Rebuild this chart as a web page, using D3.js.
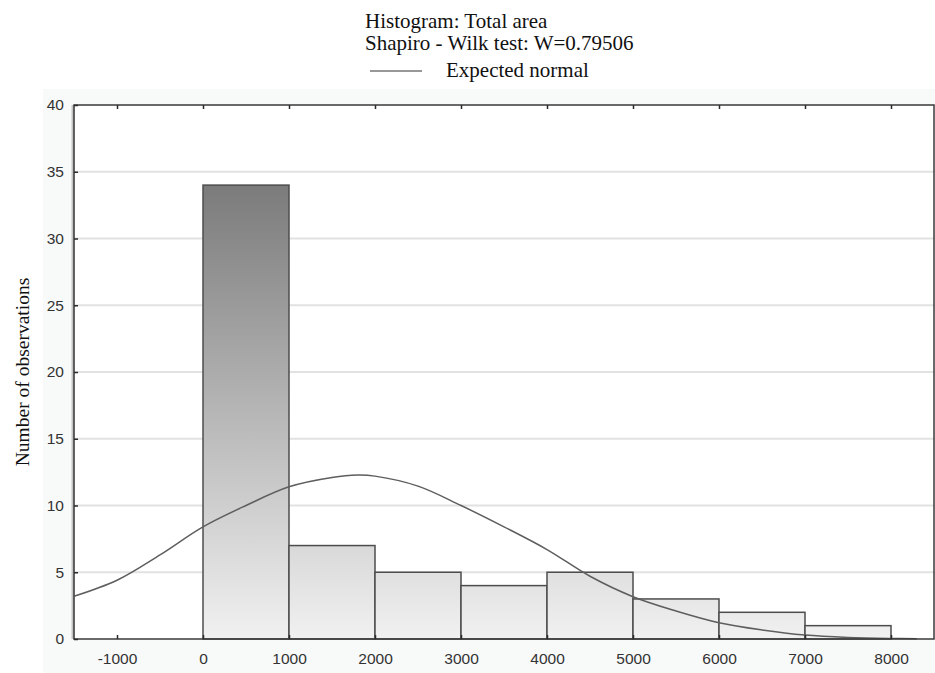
<!DOCTYPE html>
<html>
<head>
<meta charset="utf-8">
<script src="https://cdn.jsdelivr.net/npm/d3@7/dist/d3.min.js"></script>
<style>
  html, body { margin: 0; padding: 0; background: #ffffff; }
  svg { display: block; }
</style>
</head>
<body>
<script>
// Histogram bins (lower edge, upper edge) and counts
const binStarts = [0, 1000, 2000, 3000, 4000, 5000, 6000, 7000];
const binEnds   = [1000, 2000, 3000, 4000, 5000, 6000, 7000, 8000];
const counts    = [34, 7, 5, 4, 5, 3, 2, 1];

// Expected normal curve, sampled along the x axis
const curveX = [-1500, -1000, -500, 0, 500, 1000, 1500, 1800, 2000, 2500, 3000, 3500,
                4000, 4500, 5000, 5500, 6000, 6500, 7000, 7500, 8000, 8300];
const curveY = [3.2, 4.4, 6.3, 8.4, 10.0, 11.4, 12.1, 12.28, 12.2, 11.45, 10.0, 8.4,
                6.7, 4.7, 3.17, 2.1, 1.22, 0.68, 0.3, 0.12, 0.04, 0.02];

// Axis ticks
const xTicks = [-1000, 0, 1000, 2000, 3000, 4000, 5000, 6000, 7000, 8000];
const yTicks = [0, 5, 10, 15, 20, 25, 30, 35, 40];

const titleLines = ["Histogram: Total area", "Shapiro - Wilk test: W=0.79506"];
const legendLabel = "Expected normal";
const yLabel = "Number of observations";

const W = 935, H = 673;
const plot = { left: 74, right: 934, top: 105, bottom: 639 };

const svg = d3.select("body").append("svg").attr("width", W).attr("height", H);

const x = d3.scaleLinear().domain([-1500, 8500]).range([plot.left, plot.right]);
const y = d3.scaleLinear().domain([0, 40]).range([plot.bottom, plot.top]);

// Panel background and plot area
svg.append("rect").attr("x", 43).attr("y", 89).attr("width", W - 43).attr("height", H - 89)
  .attr("fill", "#f8f9f9");
svg.append("rect").attr("x", plot.left).attr("y", plot.top)
  .attr("width", plot.right - plot.left).attr("height", plot.bottom - plot.top)
  .attr("fill", "#ffffff");

// Gradient for the bars, shared over the value range
const defs = svg.append("defs");
const grad = defs.append("linearGradient").attr("id", "barGrad")
  .attr("gradientUnits", "userSpaceOnUse")
  .attr("x1", 0).attr("x2", 0).attr("y1", y(34)).attr("y2", y(0));
grad.append("stop").attr("offset", 0).attr("stop-color", "#7b7b7b");
grad.append("stop").attr("offset", 1).attr("stop-color", "#f1f1f1");

// Horizontal grid lines
svg.append("g").selectAll("line")
  .data(yTicks.filter(d => d > 0 && d < 40))
  .join("line")
  .attr("x1", plot.left).attr("x2", plot.right)
  .attr("y1", d => y(d)).attr("y2", d => y(d))
  .attr("stroke", "#e2e2e2").attr("stroke-width", 2);

// Bars
const bins = counts.map((c, i) => ({ x0: binStarts[i], x1: binEnds[i], n: c }));
svg.append("g").selectAll("rect")
  .data(bins)
  .join("rect")
  .attr("x", d => x(d.x0))
  .attr("y", d => y(d.n))
  .attr("width", d => x(d.x1) - x(d.x0))
  .attr("height", d => y(0) - y(d.n))
  .attr("fill", "url(#barGrad)")
  .attr("stroke", "#4d4d4d")
  .attr("stroke-width", 1.5);

// Expected normal curve
const curvePts = curveX.map((v, i) => [v, curveY[i]]);
svg.append("path")
  .datum(curvePts)
  .attr("d", d3.line().x(d => x(d[0])).y(d => y(d[1])).curve(d3.curveCatmullRom))
  .attr("fill", "none")
  .attr("stroke", "#5e5e5e")
  .attr("stroke-width", 1.5);

// Frame
svg.append("line").attr("x1", plot.left - 1).attr("x2", plot.left - 1)
  .attr("y1", plot.top).attr("y2", plot.bottom)
  .attr("stroke", "#c4c4c4").attr("stroke-width", 3);
svg.append("rect").attr("x", plot.left).attr("y", plot.top)
  .attr("width", plot.right - plot.left).attr("height", plot.bottom - plot.top)
  .attr("fill", "none").attr("stroke", "#3a3a3a").attr("stroke-width", 1.5);

// Axes
const fontAxis = "'Liberation Sans', Arial, sans-serif";
const xAxis = d3.axisBottom(x).tickValues(xTicks).tickSize(-4).tickPadding(14)
  .tickFormat(d => String(d));
const gx = svg.append("g").attr("transform", `translate(0,${plot.bottom})`).call(xAxis);
const yAxis = d3.axisLeft(y).tickValues(yTicks).tickSize(-4).tickPadding(10)
  .tickFormat(d => String(d));
const gy = svg.append("g").attr("transform", `translate(${plot.left},0)`).call(yAxis);
// Top ticks pointing inward
const gTop = svg.append("g").attr("transform", `translate(0,${plot.top})`)
  .call(d3.axisTop(x).tickValues(xTicks).tickSize(-4).tickFormat(""));

[gx, gy, gTop].forEach(g => {
  g.select(".domain").remove();
  g.selectAll(".tick line").attr("stroke", "#2a2a2a").attr("stroke-width", 1.5);
  g.selectAll(".tick text")
    .attr("font-family", fontAxis).attr("font-size", 15.5)
    .attr("fill", "#333333");
});

// Titles and legend
const fontSerif = "'Liberation Serif', 'Times New Roman', serif";
svg.append("g").selectAll("text")
  .data(titleLines)
  .join("text")
  .attr("x", 365).attr("y", (d, i) => 28 + i * 22)
  .attr("font-family", fontSerif).attr("font-size", 21)
  .attr("fill", "#111111")
  .text(d => d);

svg.append("line").attr("x1", 370).attr("x2", 422).attr("y1", 71).attr("y2", 71)
  .attr("stroke", "#333333").attr("stroke-width", 1.2);
svg.append("text").attr("x", 446).attr("y", 77)
  .attr("font-family", fontSerif).attr("font-size", 21)
  .attr("fill", "#111111").text(legendLabel);

// Y axis label
svg.append("text")
  .attr("transform", `translate(29,${(plot.top + plot.bottom) / 2}) rotate(-90)`)
  .attr("text-anchor", "middle")
  .attr("font-family", fontSerif).attr("font-size", 19.5)
  .attr("fill", "#111111")
  .text(yLabel);
</script>
</body>
</html>
